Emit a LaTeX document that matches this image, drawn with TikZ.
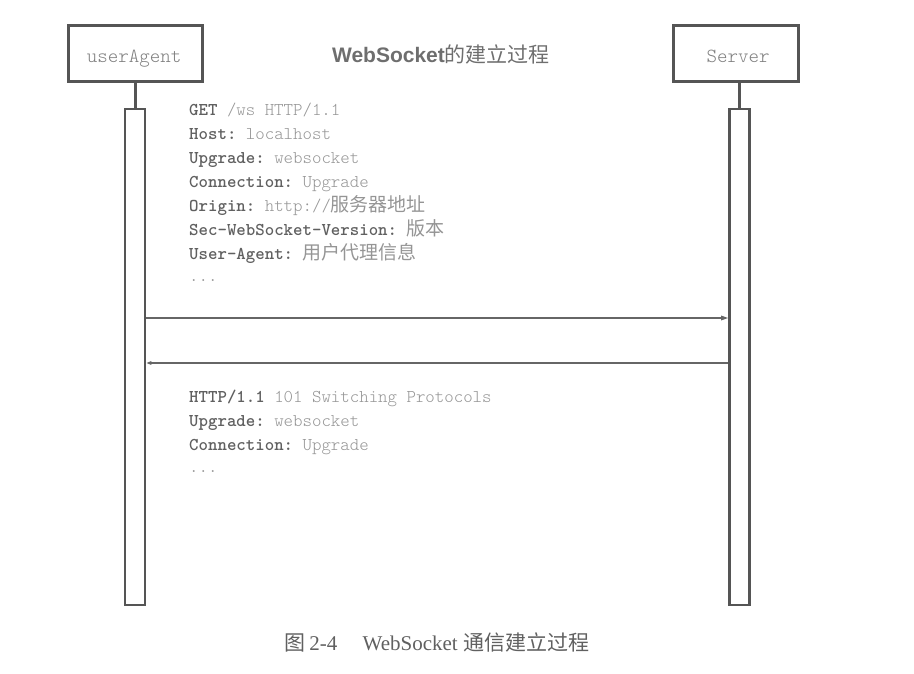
\documentclass[tikz,border=0pt]{standalone}
\usepackage{fontspec}
\setmainfont{Liberation Serif}
\setsansfont{Liberation Sans}
\setmonofont{Latin Modern Mono Light}
\newfontfamily\cjk{Noto Sans CJK SC}
\usetikzlibrary{arrows.meta}
\definecolor{linec}{HTML}{555555}
\definecolor{keyc}{HTML}{606060}
\definecolor{valc}{HTML}{959595}
\definecolor{titlec}{HTML}{6E6E6E}
\newcommand{\kv}[2]{{\color{keyc}\bfseries #1} {\color{valc}#2}}
\newcommand{\zh}[1]{{\fontsize{19}{22}\cjk #1}}
\begin{document}
\begin{tikzpicture}[x=1pt,y=-1pt,
  actor/.style={draw=linec, line width=3pt, fill=white, inner sep=0pt},
  actorlabel/.style={anchor=base, inner sep=0pt, font=\fontsize{20}{22}\selectfont\ttfamily, text=valc!85!black},
  lifebar/.style={draw=linec, line width=2.6pt, fill=white, inner sep=0pt, minimum width=20pt},
  stem/.style={draw=linec, line width=3pt},
  msg/.style={draw=linec!90, line width=1.3pt, -{Triangle[length=7pt,width=4.5pt]}},
  codeline/.style={anchor=base west, inner sep=0pt, font=\fontsize{18}{20}\selectfont\ttfamily}]
\useasboundingbox (0,0) rectangle (914,673);
% actors
\node[actor, minimum width=134pt, minimum height=56pt] (ua) at (135,53) {};
\node[actorlabel] (ualabel) at (134,62) {userAgent};
\node[actor, minimum width=125pt, minimum height=56pt] (sv) at (735.5,53) {};
\node[actorlabel] (svlabel) at (738,62) {Server};
% lifelines
\node[lifebar, minimum height=496pt] (uabar) at (135,357) {};
\node[lifebar, minimum height=496pt] (svbar) at (739.5,357) {};
\draw[stem] (ua.south) -- (uabar.north);
\draw[stem] (svbar.north |- sv.south) -- (svbar.north);
% title
\node[anchor=base, inner sep=0pt, text=titlec] (title) at (441,62)
  {\fontsize{21}{24}\selectfont\sffamily\bfseries WebSocket{\cjk\fontsize{21}{24}\selectfont\mdseries 的建立过程}};
% request
\node[codeline] (r1) at (189,115) {\kv{GET}{/ws HTTP/1.1}};
\node[codeline] (r2) at (189,139) {\kv{Host:}{localhost}};
\node[codeline] (r3) at (189,163) {\kv{Upgrade:}{websocket}};
\node[codeline] (r4) at (189,187) {\kv{Connection:}{Upgrade}};
\node[codeline] (r5) at (189,211) {\kv{Origin:}{http://\zh{服务器地址}}};
\node[codeline] (r6) at (189,235) {\kv{Sec-WebSocket-Version:}{\zh{版本}}};
\node[codeline] (r7) at (189,259) {\kv{User-Agent:}{\zh{用户代理信息}}};
\node[codeline] (r8) at (189,281) {\color{valc}...};
% messages
\coordinate (m1) at (0,318);
\coordinate (m2) at (0,363);
\draw[msg] (uabar.east |- m1) -- (svbar.west |- m1);
\draw[msg, -{Triangle[length=5pt,width=3.5pt]}] (svbar.west |- m2) -- (uabar.east |- m2);
% response
\node[codeline] (s1) at (189,402) {\kv{HTTP/1.1}{101 Switching Protocols}};
\node[codeline] (s2) at (189,426) {\kv{Upgrade:}{websocket}};
\node[codeline] (s3) at (189,450) {\kv{Connection:}{Upgrade}};
\node[codeline] (s4) at (189,472) {\color{valc}...};
% caption
\node[anchor=base, inner sep=0pt, text=keyc] (cap) at (437,650)
  {\fontsize{21}{24}\selectfont{\cjk 图}\,2-4\hspace{1.2em}WebSocket {\cjk 通信建立过程}};
\end{tikzpicture}
\end{document}
